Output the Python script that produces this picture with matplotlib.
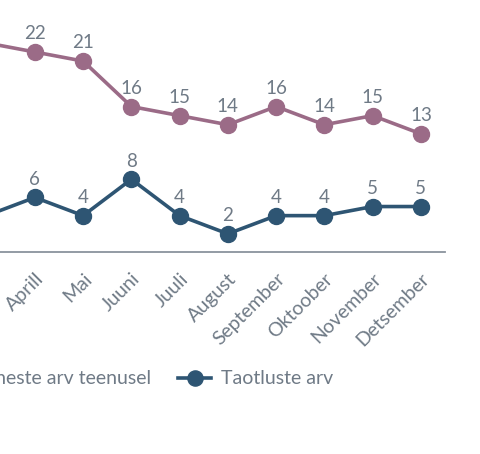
import matplotlib
matplotlib.use('Agg')
import matplotlib.pyplot as plt

matplotlib.rcParams['font.family'] = ['Lato', 'DejaVu Sans']

months = ['Jaanuar', 'Veebruar', 'Märts', 'Aprill', 'Mai', 'Juuni', 'Juuli',
          'August', 'September', 'Oktoober', 'November', 'Detsember']
inimesed = [25, 24, 23, 22, 21, 16, 15, 14, 16, 14, 15, 13]
taotlused = [5, 3, 4, 6, 4, 8, 4, 2, 4, 4, 5, 5]

pink = '#9b6b87'
blue = '#2e5573'
grey = '#6f7a86'

W, H = 480, 454
fig = plt.figure(figsize=(W / 100, H / 100), dpi=100)
# axes run off the left edge of the canvas, like the cropped original
left_px, right_px = -134, 445
bottom_px, top_px = 252, 2
ax = fig.add_axes([left_px / W, (H - bottom_px) / H,
                   (right_px - left_px) / W, (bottom_px - top_px) / H])

x = list(range(len(months)))
ax.plot(x, inimesed, color=pink, lw=2.6, marker='o', ms=11.5, label='Inimeste arv teenusel',
        clip_on=False, zorder=3)
ax.plot(x, taotlused, color=blue, lw=2.6, marker='o', ms=11.5, label='Taotluste arv',
        clip_on=False, zorder=3)

for xi, v in zip(x, inimesed):
    ax.annotate(str(v), (xi, v), xytext=(0, 7), textcoords='offset points',
                ha='center', va='bottom', fontsize=13.5, color=grey)
for xi, v in zip(x, taotlused):
    ax.annotate(str(v), (xi, v), xytext=(0, 7), textcoords='offset points',
                ha='center', va='bottom', fontsize=13.5, color=grey)

ax.set_xlim(-0.5, 11.5)
ax.set_ylim(0, 27.5)
ax.set_xticks(x)
ax.set_xticklabels(months, rotation=45, ha='right', rotation_mode='anchor',
                   fontsize=14, color=grey)
ax.tick_params(axis='x', length=0, pad=13)
ax.set_yticks([])
for s in ['top', 'right', 'left']:
    ax.spines[s].set_visible(False)
ax.spines['bottom'].set_color('#8a939d')
ax.spines['bottom'].set_linewidth(1.3)

fig.legend(loc='center right', bbox_to_anchor=(343 / W, (H - 379) / H), ncol=2,
           frameon=False, fontsize=14, labelcolor=grey, handlelength=1.7,
           handletextpad=0.5, columnspacing=1.4, borderpad=0, markerscale=0.95)

fig.savefig('out.png', dpi=100)
